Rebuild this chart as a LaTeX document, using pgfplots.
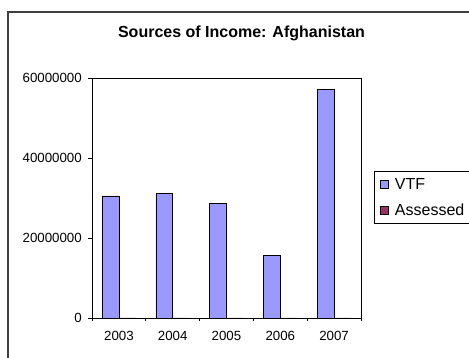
\documentclass[border=0pt]{standalone}
\usepackage{pgfplots}
\pgfplotsset{compat=1.18}
\usepackage{fontspec}
\setmainfont{Liberation Sans}
\definecolor{vtf}{HTML}{9999FF}
\definecolor{assessed}{HTML}{993366}
\pgfplotstableread{
x year value
0 2003 30500000
1 2004 31100000
2 2005 28600000
3 2006 15700000
4 2007 57200000
}\vtfdata
\pgfplotstableread{
x year value
0 2003 0
1 2004 0
2 2005 0
3 2006 0
4 2007 0
}\assesseddata
\begin{document}
\begin{tikzpicture}[x=1pt,y=1pt]
\useasboundingbox (0,0) rectangle (469,358);
\clip (0,0) rectangle (469,358);
\draw[line width=1.3pt, black!75] (8,-20) rectangle (520,346);
\node[font=\bfseries\fontsize{16}{19}\selectfont] at (241.5,325) {Sources of Income: Afghanistan};
\begin{axis}[
  at={(92pt,40pt)}, anchor=south west, scale only axis,
  width=269pt, height=240pt,
  ybar, bar width=16.7pt,
  ymin=0, ymax=60000000, xmin=-0.5, xmax=4.5,
  scaled y ticks=false,
  xtick={0,1,2,3,4}, xticklabels={2003,2004,2005,2006,2007},
  major x tick style={draw=none},
  minor xtick={-0.5,0.5,1.5,2.5,3.5,4.5},
  ytick={0,20000000,40000000,60000000},
  yticklabels={0,20000000,40000000,60000000},
  tick align=outside, tick pos=left,
  major tick length=4pt, minor tick length=3.5pt,
  tick style={black, line width=0.8pt},
  axis line style={black, line width=0.8pt},
  ticklabel style={font=\fontsize{13.3}{16}\selectfont},
  yticklabel style={inner sep=0pt, xshift=-6pt},
  xticklabel style={inner sep=0pt, yshift=-9pt},
  legend style={at={(1,0.5)}, anchor=west, xshift=13pt, yshift=0.5pt, draw=black, line width=0.8pt,
    font=\fontsize{16}{18}\selectfont, inner xsep=6pt, inner ysep=5pt, row sep=9pt,
    legend cell align=left,
    /tikz/every odd column/.append style={column sep=4pt}},
  legend image code/.code={\draw[#1, draw=black, line width=0.6pt] (0pt,-4pt) rectangle (8pt,4pt);},
]
\addplot[fill=vtf, draw=black, line width=0.8pt, bar shift=-8.35pt] table[x=x, y=value] {\vtfdata};
\addlegendentry{VTF}
\addplot[fill=assessed, draw=black, line width=0.8pt, bar shift=8.35pt] table[x=x, y=value] {\assesseddata};
\addlegendentry{Assessed}
\draw[gray, line width=0.8pt] (rel axis cs:1,0) -- (rel axis cs:1,1);
\end{axis}
\end{tikzpicture}
\end{document}
